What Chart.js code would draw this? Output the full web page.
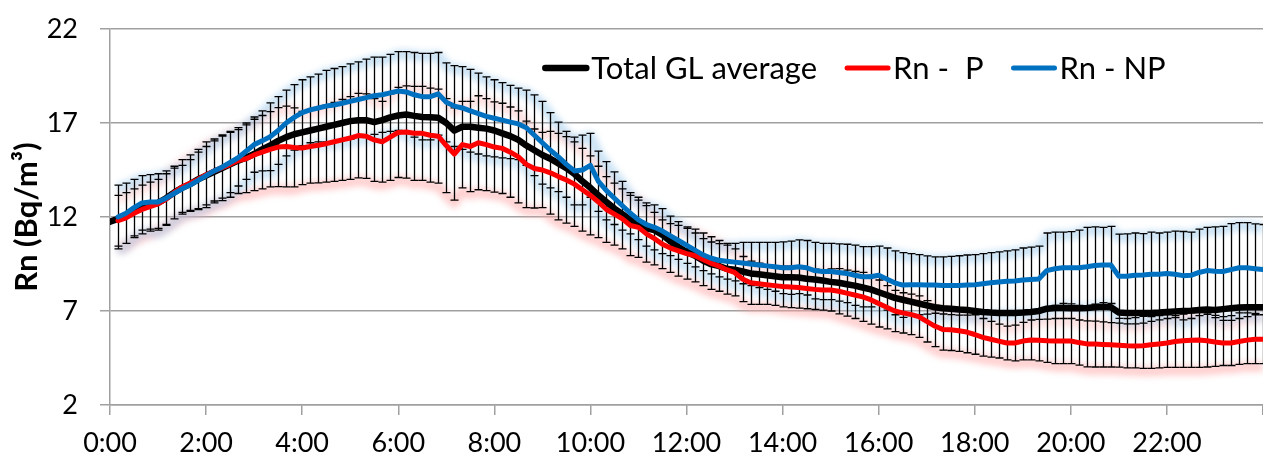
<!DOCTYPE html>
<html>
<head>
<meta charset="utf-8">
<script src="https://cdn.jsdelivr.net/npm/chart.js@4.4.1/dist/chart.umd.min.js"></script>
<style>
  html, body { margin: 0; padding: 0; background: #fff; }
  #wrap { width: 1263px; height: 457px; position: relative; }
</style>
</head>
<body>
<div id="wrap"><canvas id="rnChart"></canvas></div>
<script>
// sampling every 10 minutes, 0:00 .. 24:00 (hours)
const times = Array.from({ length: 145 }, (_, k) => k / 6)

// Total GL average (Bq/m3), one row = 2 hours
const rnTotal = [11.75,
  11.9, 12.1, 12.4, 12.6, 12.7, 12.75, 13.0, 13.3, 13.55, 13.75, 14.0, 14.2,
  14.4, 14.6, 14.8, 15.0, 15.15, 15.35, 15.6, 15.8, 16.05, 16.25, 16.4, 16.5,
  16.6, 16.7, 16.8, 16.9, 17.0, 17.1, 17.15, 17.15, 17.05, 17.15, 17.3, 17.4,
  17.45, 17.38, 17.32, 17.3, 17.28, 17.0, 16.6, 16.8, 16.8, 16.75, 16.7, 16.6,
  16.45, 16.3, 16.1, 15.8, 15.55, 15.3, 15.1, 14.85, 14.6, 14.3, 13.9, 13.55,
  13.15, 12.8, 12.45, 12.15, 11.85, 11.55, 11.4, 11.3, 11.05, 10.7, 10.4, 10.15,
  9.95, 9.7, 9.5, 9.4, 9.25, 9.2, 9.1, 9.0, 8.95, 8.9, 8.85, 8.8,
  8.8, 8.78, 8.72, 8.68, 8.62, 8.55, 8.5, 8.42, 8.35, 8.25, 8.15, 8.0,
  7.85, 7.7, 7.6, 7.5, 7.4, 7.3, 7.2, 7.15, 7.12, 7.08, 7.05, 7.0,
  6.95, 6.92, 6.9, 6.9, 6.9, 6.92, 6.95, 7.0, 7.12, 7.16, 7.16, 7.15,
  7.15, 7.16, 7.2, 7.22, 7.2, 6.92, 6.9, 6.9, 6.9, 6.9, 6.92, 6.95,
  6.98, 7.0, 7.02, 7.05, 7.08, 7.05, 7.1, 7.15, 7.18, 7.2, 7.2, 7.2]

// Rn - P
const rnP = [null,
  11.8, 11.95, 12.2, 12.4, 12.55, 12.7, 12.95, 13.3, 13.6, 13.8, 14.0, 14.25,
  14.45, 14.62, 14.8, 15.0, 15.1, 15.3, 15.45, 15.6, 15.72, 15.75, 15.7, 15.67,
  15.75, 15.82, 15.9, 16.0, 16.1, 16.2, 16.33, 16.3, 16.1, 16.0, 16.25, 16.5,
  16.52, 16.45, 16.45, 16.35, 16.3, 15.8, 15.35, 15.85, 15.75, 15.95, 15.85, 15.72,
  15.65, 15.45, 15.2, 14.8, 14.58, 14.5, 14.35, 14.15, 13.97, 13.75, 13.45, 13.15,
  12.8, 12.4, 12.15, 11.9, 11.55, 11.45, 11.1, 10.85, 10.55, 10.35, 10.2, 10.05,
  9.95, 9.75, 9.55, 9.4, 9.2, 9.05, 8.7, 8.5, 8.45, 8.4, 8.35, 8.3,
  8.28, 8.25, 8.2, 8.15, 8.12, 8.12, 8.05, 7.95, 7.85, 7.75, 7.6, 7.4,
  7.2, 7.0, 6.9, 6.82, 6.7, 6.45, 6.2, 6.02, 6.0, 5.95, 5.88, 5.75,
  5.6, 5.5, 5.4, 5.3, 5.3, 5.4, 5.46, 5.45, 5.42, 5.4, 5.4, 5.4,
  5.32, 5.25, 5.24, 5.22, 5.2, 5.18, 5.15, 5.14, 5.15, 5.2, 5.25, 5.3,
  5.38, 5.42, 5.45, 5.46, 5.42, 5.35, 5.3, 5.3, 5.38, 5.45, 5.5, 5.5]

// Rn - NP
const rnNP = [null,
  12.0, 12.2, 12.5, 12.75, 12.8, 12.8, 13.0, 13.25, 13.5, 13.7, 13.95, 14.2,
  14.45, 14.65, 14.9, 15.15, 15.5, 15.85, 16.05, 16.27, 16.6, 17.0, 17.3, 17.55,
  17.7, 17.8, 17.9, 17.96, 18.05, 18.15, 18.25, 18.35, 18.45, 18.5, 18.6, 18.7,
  18.65, 18.5, 18.4, 18.4, 18.55, 18.1, 17.9, 17.8, 17.65, 17.5, 17.35, 17.25,
  17.15, 17.05, 16.95, 16.75, 16.35, 15.95, 15.55, 15.2, 14.8, 14.45, 14.5, 14.75,
  13.9, 13.4, 13.0, 12.6, 12.2, 11.85, 11.6, 11.45, 11.25, 11.0, 10.75, 10.5,
  10.25, 10.0, 9.82, 9.7, 9.65, 9.6, 9.55, 9.5, 9.45, 9.4, 9.35, 9.3,
  9.3, 9.35, 9.3, 9.15, 9.1, 9.1, 9.05, 9.0, 8.9, 8.82, 8.82, 8.9,
  8.7, 8.5, 8.38, 8.4, 8.4, 8.38, 8.38, 8.36, 8.36, 8.36, 8.38, 8.4,
  8.45, 8.5, 8.54, 8.58, 8.6, 8.65, 8.68, 8.7, 9.15, 9.25, 9.3, 9.3,
  9.3, 9.35, 9.42, 9.45, 9.45, 8.85, 8.85, 8.9, 8.92, 8.95, 8.95, 9.0,
  8.95, 8.88, 8.9, 9.05, 9.15, 9.12, 9.1, 9.2, 9.3, 9.3, 9.25, 9.2]

// error (+/-) of Rn - P
const errP = [null,
  1.35, 1.35, 1.3, 1.3, 1.3, 1.3, 1.35, 1.4, 1.45, 1.5, 1.6, 1.75,
  1.7, 1.75, 1.75, 1.75, 1.8, 1.9, 1.95, 2.0, 2.1, 2.15, 2.1, 1.95,
  1.95, 2.0, 2.05, 2.1, 2.15, 2.2, 2.25, 2.25, 2.2, 2.15, 2.3, 2.4,
  2.45, 2.5, 2.5, 2.5, 2.5, 2.5, 2.45, 2.3, 2.4, 2.5, 2.45, 2.4,
  2.4, 2.4, 2.45, 2.3, 2.1, 2.0, 2.2, 2.3, 2.3, 2.25, 2.2, 2.1,
  1.9, 1.75, 1.65, 1.6, 1.6, 1.6, 1.5, 1.4, 1.3, 1.3, 1.35, 1.35,
  1.4, 1.4, 1.4, 1.35, 1.3, 1.25, 1.2, 1.15, 1.1, 1.05, 1.05, 1.08,
  1.1, 1.1, 1.08, 1.07, 1.07, 1.12, 1.2, 1.22, 1.25, 1.3, 1.3, 1.25,
  1.15, 1.1, 1.07, 1.08, 1.1, 1.1, 1.1, 1.1, 1.1, 1.1, 1.1, 1.05,
  1.0, 0.95, 0.9, 0.9, 0.95, 1.0, 1.06, 1.1, 1.15, 1.2, 1.2, 1.2,
  1.2, 1.22, 1.22, 1.2, 1.18, 1.17, 1.17, 1.17, 1.2, 1.25, 1.28, 1.3,
  1.38, 1.42, 1.45, 1.46, 1.4, 1.3, 1.2, 1.2, 1.22, 1.25, 1.3, 1.3]

// error (+/-) of Rn - NP
const errNP = [null,
  1.7, 1.6, 1.5, 1.45, 1.45, 1.5, 1.45, 1.35, 1.25, 1.35, 1.5, 1.55,
  1.6, 1.65, 1.6, 1.5, 1.5, 1.47, 1.6, 1.8, 1.8, 1.75, 1.74, 1.75,
  1.75, 1.8, 1.9, 1.94, 1.95, 2.0, 2.0, 2.05, 2.05, 2.0, 2.05, 2.1,
  2.15, 2.25, 2.3, 2.3, 2.2, 2.1, 2.15, 2.2, 2.2, 2.15, 2.1, 2.05,
  2.0, 1.95, 1.9, 2.0, 2.15, 2.2, 2.0, 1.85, 1.75, 1.8, 1.85, 1.7,
  1.6, 1.55, 1.4, 1.3, 1.1, 1.05, 1.15, 1.2, 1.2, 1.05, 1.0, 0.97,
  0.9, 0.85, 0.85, 0.88, 0.95, 1.0, 1.1, 1.15, 1.2, 1.25, 1.3, 1.38,
  1.42, 1.43, 1.45, 1.5, 1.5, 1.5, 1.52, 1.55, 1.6, 1.6, 1.6, 1.55,
  1.65, 1.7, 1.72, 1.65, 1.6, 1.55, 1.5, 1.52, 1.55, 1.58, 1.6, 1.6,
  1.6, 1.6, 1.6, 1.62, 1.65, 1.7, 1.72, 1.75, 2.0, 1.95, 1.9, 1.92,
  2.0, 2.1, 2.05, 2.0, 2.05, 2.24, 2.25, 2.25, 2.2, 2.25, 2.2, 2.2,
  2.3, 2.35, 2.3, 2.3, 2.3, 2.35, 2.4, 2.45, 2.4, 2.4, 2.38, 2.4]

const seriesLabels = ['Total GL average', 'Rn -  P', 'Rn - NP']
const yTitle = 'Rn (Bq/m³)'
const FONT = 'Lato'

const pts = arr => arr.map((v, i) => ({ x: times[i], y: v }))
const plus = (a, e) => a.map((v, i) => v == null ? null : v + e[i])
const minus = (a, e) => a.map((v, i) => v == null ? null : v - e[i])

//error bars + the soft glow excel puts on them, drawn under the lines
const errorBars = {
  id: 'errorBars',
  beforeDatasetsDraw(chart) {
    const { ctx, chartArea: ca, scales: { x, y } } = chart
    const npHi = plus(rnNP, errNP), npLo = minus(rnNP, errNP)
    const pHi = plus(rnP, errP), pLo = minus(rnP, errP)
    ctx.save()
    ctx.beginPath()
    ctx.rect(ca.left, ca.top, ca.right - ca.left, ca.bottom - ca.top)
    ctx.clip()

    const glow = (vals, color) => {
      ctx.save()
      ctx.filter = 'blur(3px)'
      ctx.strokeStyle = color
      ctx.lineWidth = 10
      ctx.lineJoin = 'round'
      ctx.beginPath()
      let started = false
      vals.forEach((v, i) => {
        if (v == null) return
        const px = x.getPixelForValue(times[i])
        const py = y.getPixelForValue(v) + 3
        if (started) ctx.lineTo(px, py)
        else { ctx.moveTo(px, py); started = true }
      })
      ctx.stroke()
      ctx.restore()
    }
    glow(pHi, 'rgba(255,170,170,0.35)')
    glow(pLo, 'rgba(255,160,160,0.5)')
    glow(npHi, 'rgba(150,200,235,0.5)')
    glow(npLo, 'rgba(150,200,235,0.45)')

    ctx.strokeStyle = '#000'
    ctx.lineWidth = 1.3
    const cap = 4
    times.forEach((t, i) => {
      if (rnNP[i] == null || rnP[i] == null) return
      const px = Math.round(x.getPixelForValue(t)) + 0.5
      const levels = [npHi[i], npLo[i], pHi[i], pLo[i]].map(v => y.getPixelForValue(v))
      ctx.beginPath()
      ctx.moveTo(px, Math.min(...levels))
      ctx.lineTo(px, Math.max(...levels))
      levels.forEach(py => {
        ctx.moveTo(px - cap, py)
        ctx.lineTo(px + cap, py)
      })
      ctx.stroke()
    })
    ctx.restore()
  }
}

//legend drawn by hand so the line sample sits right next to the text like in excel
const lineLegend = {
  id: 'lineLegend',
  afterDraw(chart) {
    const ctx = chart.ctx
    const sample = 47, gap = 2, itemGap = 27
    ctx.save()
    ctx.font = `31px ${FONT}`
    const items = chart.data.datasets.map(ds => ({
      text: ds.label, color: ds.borderColor, lw: ds.borderWidth,
      w: ctx.measureText(ds.label).width
    }))
    const total = items.reduce((s, it) => s + sample + gap + it.w, 0) + itemGap * (items.length - 1)
    let lx = 854 - total / 2
    const ly = 68
    items.forEach(it => {
      ctx.strokeStyle = it.color
      ctx.lineWidth = it.lw
      ctx.lineCap = 'round'
      ctx.beginPath()
      ctx.moveTo(lx + 3, ly)
      ctx.lineTo(lx + sample - 3, ly)
      ctx.stroke()
      ctx.fillStyle = '#000'
      ctx.textBaseline = 'middle'
      ctx.textAlign = 'left'
      ctx.fillText(it.text, lx + sample + gap, ly + 1)
      lx += sample + gap + it.w + itemGap
    })
    ctx.restore()
  }
}

const axisGray = '#a0a0a0'

new Chart(document.getElementById('rnChart'), {
  type: 'line',
  data: {
    datasets: [
      //order: higher number is drawn first, so blue ends up on top like in excel
      { label: seriesLabels[0], data: pts(rnTotal), borderColor: '#000000', backgroundColor: '#000000', borderWidth: 6.5, order: 3 },
      { label: seriesLabels[1], data: pts(rnP), borderColor: '#ff0000', backgroundColor: '#ff0000', borderWidth: 5, order: 2 },
      { label: seriesLabels[2], data: pts(rnNP), borderColor: '#0070c0', backgroundColor: '#0070c0', borderWidth: 5, order: 1 }
    ]
  },
  options: {
    responsive: true,
    maintainAspectRatio: false,
    animation: false,
    layout: { autoPadding: false, padding: { top: 29, right: 0, left: 0, bottom: 0 } },
    elements: {
      point: { radius: 0, hoverRadius: 0, hitRadius: 0 },
      line: { tension: 0, borderCapStyle: 'round', borderJoinStyle: 'round', fill: false }
    },
    plugins: {
      legend: { display: false },
      tooltip: { enabled: false }
    },
    scales: {
      x: {
        type: 'linear',
        min: 0,
        max: 24,
        //fixed height, and no extra side padding (the 24:00 label is cut off in the original)
        afterFit: s => { s.height = 52; s.paddingLeft = 0; s.paddingRight = 0 },
        ticks: {
          stepSize: 2,
          autoSkip: false,
          maxRotation: 0,
          color: '#000',
          padding: 12,
          font: { family: FONT, size: 27 },
          callback: v => v >= 24 ? '' : v + ':00'
        },
        grid: { drawOnChartArea: false, drawTicks: true, tickLength: 10, color: axisGray, lineWidth: 1.5 },
        border: { display: true, color: axisGray, width: 1.5 }
      },
      y: {
        min: 2,
        max: 22,
        afterFit: s => { s.width = 110; s.paddingTop = 0; s.paddingBottom = 0 },
        ticks: {
          stepSize: 5,
          color: '#000',
          padding: 22,
          font: { family: FONT, size: 27 }
        },
        grid: { color: axisGray, lineWidth: 1.5, tickLength: 10 },
        border: { display: true, color: axisGray, width: 1.5 },
        title: {
          display: true,
          text: yTitle,
          color: '#000',
          font: { family: FONT, size: 31, weight: 'bold' },
          padding: { top: 8, bottom: 0 }
        }
      }
    }
  },
  plugins: [errorBars, lineLegend]
})
</script>
</body>
</html>
